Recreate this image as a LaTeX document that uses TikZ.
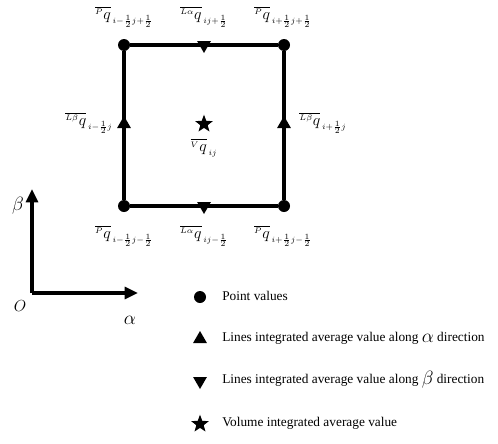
\documentclass[tikz,border=0pt]{standalone}
\usepackage{fontspec}
\setmainfont{Liberation Serif}
\usetikzlibrary{shapes.geometric,arrows.meta}
\newcommand\qlab[2]{\overline{{}^{\scriptscriptstyle #1}q}_{\scriptscriptstyle\,#2}}
\tikzset{
  edge/.style={line width=2.3pt},
  pt/.style={circle,fill=black,inner sep=0pt,minimum size=9pt},
  tup/.style={regular polygon,regular polygon sides=3,fill=black,inner sep=0pt,minimum size=12pt},
  tdown/.style={tup,shape border rotate=180},
  starm/.style={star,star points=5,star point ratio=2.4,fill=black,inner sep=0pt,minimum size=14pt},
  lab/.style={inner sep=1pt,font=\fontsize{13}{15}\selectfont},
  legtxt/.style={anchor=west,inner sep=0pt,font=\fontsize{10}{12}\selectfont},
  axis/.style={line width=2.3pt,-{Triangle[length=10pt,width=9pt]}}
}
\begin{document}
\begin{tikzpicture}[x=0.75pt,y=-0.75pt]
\useasboundingbox (0,0) rectangle (498,443);
% corners
\node[pt] (tl) at (124,45) {};
\node[pt] (tr) at (284,45) {};
\node[pt] (bl) at (124,206) {};
\node[pt] (br) at (284,206) {};
\draw[edge] (tl) -- (tr);
\draw[edge] (tr) -- (br);
\draw[edge] (br) -- (bl);
\draw[edge] (bl) -- (tl);
% markers
\node[tdown] (tm) at (204,45) {};
\node[tdown] (bm) at (204,206) {};
\node[tup] (lm) at (124,124) {};
\node[tup] (rm) at (284,124) {};
\node[starm] (cs) at (204,124) {};
% labels
\node[lab] (ltl) at (124,17) {$\qlab{P}{i-\frac12 j+\frac12}$};
\node[lab] (ltm) at (204,17) {$\qlab{L\alpha}{ij+\frac12}$};
\node[lab] (ltr) at (283,17) {$\qlab{P}{i+\frac12 j+\frac12}$};
\node[lab] (llm) at (89,123) {$\qlab{L\beta}{i-\frac12 j}$};
\node[lab] (lrm) at (323,123) {$\qlab{L\beta}{i+\frac12 j}$};
\node[lab] (lcs) at (204,148) {$\qlab{V}{ij}$};
\node[lab] (lbl) at (124,236) {$\qlab{P}{i-\frac12 j-\frac12}$};
\node[lab] (lbm) at (204,236) {$\qlab{L\alpha}{ij-\frac12}$};
\node[lab] (lbr) at (283,236) {$\qlab{P}{i+\frac12 j-\frac12}$};
% axes
\coordinate (O) at (32,293);
\coordinate (ytip) at (32,189);
\coordinate (xtip) at (138,293);
\draw[axis] (O) -- (ytip);
\draw[axis] (O) -- (xtip);
\node[lab] (lO) at (20,306) {\fontsize{12}{14}\selectfont$O$};
\node[lab] (lb) at (18,206) {\fontsize{14}{16}\selectfont$\beta$};
\node[lab] (la) at (130,320) {\fontsize{14}{16}\selectfont$\alpha$};
% legend
\node[pt] (k1) at (200,297) {};
\node[legtxt] (t1) at (222,296) {Point values};
\node[tup] (k2) at (200,339) {};
\node[legtxt] (t2) at (222,338) {Lines integrated average value along \raisebox{-1pt}{\fontsize{14}{14}\selectfont$\alpha$} direction};
\node[tdown] (k3) at (200,381) {};
\node[legtxt] (t3) at (222,380) {Lines integrated average value along \raisebox{-1pt}{\fontsize{14}{14}\selectfont$\beta$} direction};
\node[starm] (k4) at (200,424) {};
\node[legtxt] (t4) at (222,423) {Volume integrated average value};
\end{tikzpicture}
\end{document}
